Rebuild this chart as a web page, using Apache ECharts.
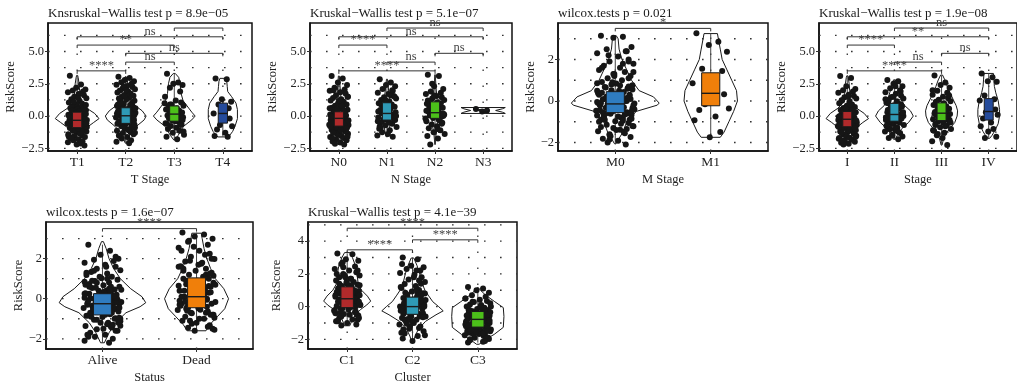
<!DOCTYPE html>
<html>
<head>
<meta charset="utf-8">
<script src="https://cdn.jsdelivr.net/npm/echarts@6/dist/echarts.min.js"></script>
<style>
html,body{margin:0;padding:0;background:#fff;}
#chart{width:1017px;height:385px;}
</style>
</head>
<body>
<div id="chart"></div>
<script>
// horizontal jitter offsets (category units), shared by every group
var jitter = [-0.15,0.08,-0.02,0.17,-0.09,0.12,-0.19,0.03,0.14,-0.06,0.19,-0.12,0.05,-0.17,0.10,-0.01,0.16,-0.08,0.07,-0.14,
  0.01,0.18,-0.11,0.13,-0.04,0.09,-0.18,0.15,-0.07,0.04,-0.13,0.11,-0.03,0.20,-0.16,0.06,-0.10,0.02,-0.20,0.12,
  -0.05,0.17,-0.12,0.08,-0.15,0.00,0.14,-0.09,0.19,-0.02,0.05,-0.18,0.10,-0.06,0.16,-0.13,0.03,-0.08,0.11,-0.19,
  0.07,-0.01,0.15,-0.11,0.13,-0.04,0.18,-0.14,0.02,-0.17,0.09,-0.07,0.20,-0.10,0.06,-0.16,0.12,-0.03,0.04,-0.12,
  0.13,-0.18,0.06,-0.09,0.18,-0.03,0.10,-0.14,0.01,0.16,-0.07,0.19,-0.11,0.04,-0.16,0.08,-0.05,0.14,-0.19,0.11,
  -0.08,0.15,-0.13,0.02,0.17,-0.04,0.09,-0.17,0.12,-0.10,0.05,0.19,-0.15,0.07,-0.01,0.14,-0.19,0.10,-0.06,0.18];

// ---- T Stage ----
var tCats = ['T1','T2','T3','T4'];
var tScores = [
  [3.12,2.45,2.2,2.05,1.98,1.9,1.85,1.7,1.62,1.5,1.38,1.3,1.18,1.05,0.98,0.9,0.82,0.74,0.66,0.6,0.52,0.44,0.38,0.3,0.24,0.17,0.1,0.04,-0.02,-0.08,-0.13,-0.19,-0.25,-0.3,-0.36,-0.41,-0.47,-0.52,-0.58,-0.63,-0.7,-0.76,-0.82,-0.88,-0.93,-1.0,-1.06,-1.12,-1.19,-1.26,-1.33,-1.41,-1.48,-1.56,-1.63,-1.72,-1.8,-1.88,-1.95,-2.03,-2.12,-2.2,-2.28,0.7,-0.4,-1.1,0.15,-0.7,1.4,-1.6,
   -0.2,-0.5,-0.85,0.4,-1.3,0.0,-0.65,0.25,-1.0,-0.35,0.55,-1.5,-0.1,-0.75,0.85,-0.45,-1.2,0.05,-0.95,-0.25,1.1,-0.55,-1.7,0.35,-0.05],
  [3.05,2.95,2.8,2.7,2.62,2.5,2.42,2.33,2.25,2.15,2.08,1.98,1.9,1.82,1.74,1.65,1.57,1.5,1.42,1.35,1.26,1.18,1.1,1.02,0.94,0.86,0.78,0.7,0.62,0.55,0.47,0.4,0.32,0.25,0.18,0.1,0.03,-0.04,-0.11,-0.18,-0.25,-0.33,-0.4,-0.48,-0.56,-0.64,-0.72,-0.8,-0.88,-0.97,-1.05,-1.14,-1.23,-1.32,-1.42,-1.52,-1.63,-1.75,-1.88,-2.0,-2.1,0.5,-0.3,1.2,-0.9,2.3,0.1,-1.5,1.7,-0.6,
   0.3,-0.2,0.6,-0.5,0.0,0.9,-0.8,0.45,-0.1,1.3,-0.35,0.2,-1.1,0.75,-0.65,1.6,0.15,-0.45,2.0,-0.15,0.55,-1.3,1.0,-0.05,0.35],
  [3.28,2.6,2.5,2.4,2.2,1.9,1.5,1.2,1.05,0.9,0.8,0.7,0.6,0.5,0.42,0.35,0.28,0.2,0.12,0.05,-0.02,-0.1,-0.18,-0.25,-0.35,-0.45,-0.55,-0.65,-0.78,-0.9,-1.0,-1.15,-1.3,-1.45,-1.6,-1.8,0.3,-0.4,1.0,-0.7,
   0.2,-0.3,0.6,0.0,-0.6,0.45,-0.15,0.9,-1.2,0.1],
  [2.9,2.85,1.3,1.1,0.9,0.6,0.2,0.1,-0.2,-0.7,-0.8,-1.05,-1.3,-1.55,-1.6]
];
var tBoxes = [[-2.3,-0.9,-0.33,0.3,3.12],[-2.1,-0.57,0.02,0.64,3.05],[-1.86,-0.4,0.15,0.78,3.3],[-1.6,-0.55,0.2,1.0,1.3]];
var tViolins = [
  [[-2.3,0.02],[-2.0,0.04],[-1.5,0.08],[-1.0,0.16],[-0.5,0.34],[-0.2,0.45],[0.2,0.36],[0.6,0.2],[1.0,0.1],[1.5,0.06],[2.0,0.05],[2.5,0.04],[3.0,0.02],[3.15,0.01]],
  [[-2.1,0.01],[-1.8,0.04],[-1.3,0.1],[-0.8,0.22],[-0.3,0.38],[0,0.42],[0.4,0.34],[0.8,0.2],[1.2,0.12],[1.8,0.07],[2.4,0.05],[2.8,0.03],[3.05,0.01]],
  [[-1.86,0.01],[-1.5,0.08],[-0.8,0.19],[-0.3,0.36],[0,0.43],[0.3,0.36],[0.7,0.28],[1.2,0.18],[1.75,0.14],[2.5,0.12],[3.0,0.09],[3.3,0.02]],
  [[-1.62,0.1],[-1.5,0.14],[-1.2,0.2],[-0.8,0.25],[-0.2,0.3],[0.5,0.3],[1.0,0.27],[1.5,0.18],[1.9,0.1],[2.3,0.09],[2.7,0.08],[2.92,0.06]]
];
var tBrackets = [[1,2,3.5,'****'],[2,3,4.18,'ns'],[2,4,4.86,'ns'],[1,3,5.5,'**'],[1,4,6.14,'ns'],[3,4,6.82,'']];

// ---- N Stage ----
var nCats = ['N0','N1','N2','N3'];
var nScores = [
  [3.1,2.9,2.6,2.4,2.2,2.05,1.95,1.85,1.75,1.62,1.5,1.4,1.3,1.2,1.1,1.0,0.9,0.8,0.72,0.64,0.56,0.48,0.4,0.32,0.25,0.18,0.11,0.04,-0.03,-0.1,-0.16,-0.22,-0.29,-0.35,-0.42,-0.48,-0.55,-0.61,-0.68,-0.74,-0.8,-0.87,-0.94,-1.0,-1.07,-1.14,-1.21,-1.29,-1.37,-1.45,-1.53,-1.62,-1.7,-1.79,-1.88,-1.97,-2.06,-2.15,-2.2,0.6,-0.5,1.0,-1.2,0.2,-0.2,-0.9,1.5,-1.7,0.0,-0.3,
   -0.4,-0.1,-0.7,0.3,-1.0,0.0,-0.55,0.5,-0.25,-1.3,0.15,-0.8,0.8,-0.45,-1.6,-0.15,0.4,-0.6,1.2,-0.95,0.05,-0.35,2.0,-1.1,-0.05],
  [2.85,2.6,2.4,2.3,2.1,1.95,1.8,1.7,1.55,1.45,1.35,1.25,1.12,1.0,0.9,0.82,0.72,0.63,0.55,0.46,0.38,0.3,0.22,0.14,0.05,-0.04,-0.12,-0.2,-0.3,-0.4,-0.5,-0.6,-0.72,-0.85,-0.98,-1.1,-1.25,-1.4,-1.5,-1.6,0.4,-0.3,0.9,1.6,-0.8,
   0.2,-0.1,0.6,0.0,1.2,-0.5,0.35,0.8,-0.2,1.5,-0.9,0.1,0.5,2.0,-0.4],
  [3.2,3.1,2.3,2.1,1.9,1.8,1.7,1.55,1.45,1.35,1.25,1.15,1.05,0.95,0.85,0.75,0.65,0.55,0.45,0.35,0.25,0.15,0.05,-0.05,-0.15,-0.28,-0.4,-0.52,-0.65,-0.8,-0.95,-1.1,-1.25,-1.4,-1.55,-1.75,-2.2,0.6,-0.2,1.0,
   0.3,0.0,0.7,-0.3,1.2,0.5,-0.6,0.9,0.1,1.6,-1.0,0.4,-0.1,2.5,0.2],
  [0.55,0.42,0.35]
];
var nBoxes = [[-2.2,-0.78,-0.18,0.33,3.1],[-1.6,-0.31,0.2,1.03,2.85],[-2.2,-0.18,0.26,1.1,3.2],[0.35,0.4,0.45,0.5,0.55]];
var nViolins = [
  [[-2.2,0.01],[-1.5,0.04],[-0.8,0.08],[-0.2,0.1],[0.5,0.08],[1.2,0.05],[2.0,0.03],[3.1,0.01]],
  [[-1.6,0.02],[-1.0,0.05],[-0.3,0.08],[0.3,0.09],[1.0,0.07],[1.8,0.04],[2.85,0.01]],
  [[-2.2,0.005],[-1.5,0.02],[-0.8,0.05],[0,0.07],[0.6,0.06],[1.4,0.04],[2.2,0.02],[3.2,0.005]],
  [[0.2,0.46],[0.3,0.4],[0.43,0.26],[0.56,0.4],[0.66,0.46]]
];
var nBrackets = [[1,3,3.5,'****'],[2,3,4.18,'ns'],[3,4,4.86,'ns'],[1,2,5.5,'****'],[1,4,6.14,'ns'],[2,4,6.82,'ns']];

// ---- M Stage ----
var mCats = ['M0','M1'];
var mScores = [
  [3.15,3.1,3.05,2.6,2.5,2.4,2.3,2.15,2.0,1.9,1.8,1.7,1.6,1.5,1.4,1.3,1.2,1.1,1.0,0.92,0.84,0.76,0.68,0.6,0.52,0.44,0.37,0.3,0.23,0.16,0.09,0.02,-0.05,-0.12,-0.19,-0.26,-0.33,-0.4,-0.47,-0.54,-0.61,-0.68,-0.75,-0.82,-0.9,-0.98,-1.06,-1.14,-1.22,-1.3,-1.38,-1.46,-1.55,-1.64,-1.73,-1.82,-1.92,-2.0,-2.1,0.5,-0.3,1.2,-0.9,0.1,-0.6,0.8,-1.2,1.6,-0.1,0.3,-1.5,2.2,-0.4,0.65,-0.8,
   -0.2,0.0,-0.5,0.3,-0.8,0.6,-0.1,-1.1,0.2,-0.35,0.9,-0.65,0.4,-1.4,0.1,-0.25,1.4,-0.9,0.5,-0.45,1.8,-1.7,0.7,-0.05,2.4,
   -0.15,0.25,-0.55,0.05,-0.85,0.45,-0.3,-1.0,0.15,-0.6,0.75,-0.2,-1.25,0.35,-0.4,1.1,-0.7,0.0,-1.6,0.55,-0.1,-0.95,1.3,-0.5,0.2,-1.35,0.85,-0.75,1.9,-1.85],
  [3.26,2.86,2.7,2.37,1.55,1.45,0.85,0.45,0.33,-0.16,-0.36,-0.43,-0.75,-0.93,-1.5,-1.75]
];
var mBoxes = [[-2.1,-0.56,-0.14,0.45,3.15],[-1.75,-0.23,0.37,1.36,3.26]];
var mViolins = [
  [[-2.05,0.01],[-1.8,0.04],[-1.5,0.08],[-1.0,0.12],[-0.5,0.22],[-0.2,0.44],[-0.1,0.46],[0.2,0.4],[0.5,0.25],[1.0,0.17],[1.5,0.12],[2.0,0.07],[2.5,0.04],[3.0,0.03],[3.15,0.01]],
  [[-1.75,0.1],[-1.5,0.14],[-1.0,0.19],[-0.5,0.24],[0,0.28],[0.5,0.27],[1.0,0.22],[1.5,0.17],[2.0,0.12],[2.5,0.1],[3.0,0.08],[3.25,0.07]]
];
var mBrackets = [[1,2,3.5,'*']];

// ---- Stage ----
var sCats = ['I','II','III','IV'];
var sScores = [
  [3.1,2.95,2.3,2.1,2.0,1.9,1.8,1.65,1.55,1.45,1.35,1.22,1.1,1.0,0.9,0.8,0.7,0.62,0.54,0.46,0.38,0.3,0.22,0.15,0.08,0.01,-0.06,-0.12,-0.18,-0.24,-0.3,-0.36,-0.42,-0.48,-0.54,-0.6,-0.66,-0.72,-0.78,-0.85,-0.92,-0.99,-1.06,-1.13,-1.2,-1.28,-1.36,-1.44,-1.52,-1.6,-1.68,-1.76,-1.84,-1.92,-2.0,-2.08,-2.15,-2.2,0.5,-0.3,-0.9,0.0,-1.4,1.2,-0.6,0.25,-1.1,-0.15,0.75,-1.7,
   -0.4,-0.1,-0.7,0.3,-1.0,0.0,-0.55,0.6,-0.25,-1.3,0.15,-0.85,0.9,-0.45,-1.6,-0.2,0.45,-0.65,1.5,-0.95,0.05,-0.35,-1.9,-1.15,-0.05],
  [2.8,2.7,2.5,2.3,2.15,2.0,1.85,1.72,1.6,1.48,1.36,1.25,1.14,1.03,0.93,0.83,0.73,0.64,0.55,0.46,0.37,0.28,0.2,0.12,0.04,-0.04,-0.12,-0.2,-0.28,-0.36,-0.44,-0.52,-0.6,-0.7,-0.8,-0.9,-1.0,-1.1,-1.2,-1.32,-1.45,-1.58,-1.7,-1.8,0.3,-0.5,0.9,-1.0,0.0,1.5,
   0.2,-0.3,0.6,-0.6,0.0,1.0,-0.9,0.4,-0.15,1.3,-1.2,0.1,0.8,-0.45,1.9,-1.5,0.3,-0.05,2.3,-0.75],
  [3.15,2.6,2.4,2.2,1.95,1.8,1.65,1.5,1.38,1.26,1.15,1.05,0.95,0.85,0.75,0.66,0.57,0.48,0.4,0.32,0.24,0.16,0.08,0.0,-0.08,-0.16,-0.24,-0.33,-0.42,-0.52,-0.62,-0.74,-0.86,-1.0,-1.15,-1.3,-1.48,-1.7,-1.95,-2.25,0.5,-0.3,1.1,-0.8,0.2,
   0.3,-0.2,0.7,-0.5,0.1,1.0,-1.1,0.45,-0.1,1.6,-0.7,0.6,-1.4,0.0,2.0],
  [3.3,3.0,2.7,2.65,1.6,1.3,1.2,0.9,0.5,0.3,0.1,-0.2,-0.5,-0.8,-1.0,-1.2,-1.6,-1.7]
];
var sBoxes = [[-2.2,-0.83,-0.25,0.35,3.1],[-1.8,-0.4,0.12,0.98,2.8],[-2.25,-0.35,0.22,1.02,3.15],[-1.7,-0.31,0.35,1.35,3.3]];
var sViolins = [
  [[-2.2,0.01],[-1.9,0.04],[-1.5,0.08],[-1.0,0.16],[-0.5,0.33],[-0.2,0.45],[0.2,0.36],[0.6,0.2],[1.0,0.1],[1.5,0.06],[2.0,0.05],[2.5,0.04],[3.0,0.02],[3.12,0.01]],
  [[-1.8,0.02],[-1.5,0.06],[-1.0,0.15],[-0.5,0.3],[0,0.4],[0.4,0.34],[0.8,0.22],[1.2,0.15],[1.8,0.1],[2.3,0.06],[2.8,0.02]],
  [[-2.25,0.01],[-1.8,0.04],[-1.3,0.1],[-1.0,0.17],[-0.5,0.28],[0,0.33],[0.4,0.34],[0.8,0.31],[1.25,0.25],[1.8,0.18],[2.3,0.12],[2.8,0.07],[3.18,0.02]],
  [[-1.73,0.02],[-1.5,0.07],[-1.2,0.12],[-0.6,0.2],[0,0.23],[0.5,0.23],[1.2,0.2],[1.8,0.15],[2.3,0.12],[2.8,0.11],[3.3,0.1]]
];
var sBrackets = [[1,3,3.5,'****'],[2,3,4.18,'ns'],[3,4,4.86,'ns'],[1,2,5.5,'****'],[1,4,6.14,'**'],[2,4,6.82,'ns']];

// ---- Status ----
var stCats = ['Alive','Dead'];
var stScores = [
  [2.7,2.4,2.2,2.0,1.95,1.88,1.8,1.7,1.6,1.5,1.42,1.34,1.26,1.18,1.1,1.02,0.95,0.88,0.81,0.74,0.67,0.6,0.53,0.46,0.4,0.33,0.27,0.2,0.14,0.08,0.02,-0.04,-0.1,-0.16,-0.22,-0.28,-0.34,-0.4,-0.46,-0.52,-0.58,-0.64,-0.7,-0.77,-0.84,-0.91,-0.98,-1.05,-1.12,-1.2,-1.28,-1.36,-1.44,-1.52,-1.6,-1.7,-1.8,-1.9,-2.0,-2.1,-2.2,0.3,-0.5,0.9,-1.0,0.0,-0.25,0.6,-0.75,1.3,-1.4,-0.1,0.45,-0.6,0.15,
   -0.3,0.1,-0.6,0.4,-0.9,-0.15,0.7,-1.2,0.0,-0.45,1.1,-0.7,0.25,-1.5,-0.05,0.55,-1.0,-0.35,1.6,-1.8,0.2,-0.55,-0.2,0.85,-1.3,
   -0.4,0.05,-0.7,0.35,-1.1,-0.2,0.6,-0.85,0.15,-0.5,1.0,-1.35,-0.1,0.5,-0.65,-1.6,0.25,-0.3,0.8,-0.95,-1.9,0.4,-0.15,-1.2,1.4,-0.45,0.05,-0.8,2.1,-1.05],
  [3.3,3.2,3.1,3.0,2.85,2.7,2.55,2.4,2.25,2.1,1.98,1.86,1.74,1.62,1.5,1.4,1.3,1.2,1.1,1.0,0.9,0.8,0.72,0.64,0.56,0.48,0.4,0.32,0.24,0.16,0.08,0.0,-0.08,-0.16,-0.24,-0.32,-0.4,-0.48,-0.56,-0.64,-0.72,-0.8,-0.9,-1.0,-1.1,-1.2,-1.32,-1.45,-1.55,-1.6,0.5,-0.3,1.2,-0.7,2.0,0.1,-1.0,0.8,-0.4,1.6,
   0.2,-0.2,0.6,-0.5,1.0,0.0,-0.8,1.4,0.35,-0.35,2.2,-1.1,0.7,-0.6,1.8,0.1,-1.4,2.6,0.45,-0.15,
   0.3,-0.1,0.75,-0.45,1.15,0.05,-0.7,1.5,0.55,-0.25,1.9,-0.95,0.9,-0.55,2.4,0.2,-1.25,1.25,0.65,-0.05,2.9,-0.8,0.4,1.7,-1.5]
];
var stBoxes = [[-2.2,-0.81,-0.25,0.25,2.7],[-1.6,-0.45,0.1,1.04,3.3]];
var stViolins = [
  [[-2.2,0.02],[-1.7,0.07],[-1.2,0.14],[-0.7,0.25],[-0.4,0.4],[-0.2,0.46],[0.1,0.42],[0.5,0.3],[1.0,0.19],[1.5,0.12],[2.0,0.07],[2.5,0.04],[2.85,0.01]],
  [[-1.6,0.1],[-1.3,0.14],[-0.9,0.22],[-0.5,0.3],[0,0.34],[0.5,0.29],[1.0,0.2],[1.5,0.15],[2.0,0.11],[2.5,0.08],[3.0,0.06],[3.27,0.05]]
];
var stBrackets = [[1,2,3.5,'****']];

// ---- Cluster ----
var cCats = ['C1','C2','C3'];
var cScores = [
  [3.25,3.2,2.9,2.8,2.6,2.45,2.3,2.2,2.1,2.0,1.9,1.8,1.7,1.6,1.5,1.42,1.34,1.26,1.18,1.1,1.02,0.95,0.88,0.81,0.74,0.67,0.6,0.53,0.46,0.39,0.32,0.25,0.18,0.11,0.04,-0.03,-0.1,-0.18,-0.26,-0.35,-0.45,-0.55,-0.66,-0.78,-0.9,-1.0,-1.1,-1.15,0.7,0.2,1.3,-0.4,0.5,2.4,-0.8,1.0,
   0.6,0.2,1.0,-0.2,0.4,1.5,-0.5,0.8,0.0,1.9,-0.7,0.3,1.2,-0.9,0.55,2.7,0.1,-0.35,1.7,0.9,
   0.5,0.9,0.1,1.4,-0.3,0.7,1.1,-0.6,0.3,1.8,0.0,-0.85,0.6,2.2,-0.1,1.3,0.45,-0.5,2.0,0.85],
  [3.0,2.9,2.5,2.4,2.3,2.2,2.05,1.95,1.8,1.65,1.5,1.38,1.26,1.14,1.02,0.92,0.82,0.72,0.62,0.53,0.44,0.35,0.27,0.19,0.11,0.03,-0.05,-0.13,-0.21,-0.29,-0.37,-0.45,-0.53,-0.61,-0.7,-0.8,-0.9,-1.0,-1.1,-1.22,-1.35,-1.5,-1.65,-1.8,-1.95,-2.1,0.4,-0.2,0.8,-0.6,0.0,1.2,-1.3,0.2,-0.4,
   0.2,-0.3,0.5,-0.6,0.0,0.9,-0.9,0.3,-0.15,1.4,-1.2,0.1,-0.45,1.8,-1.6,0.7,-0.75,0.4,-0.05,2.2,
   -0.1,0.35,-0.5,0.1,-0.8,0.65,-0.25,1.1,-1.05,0.0,-0.4,1.6,-1.4,0.25,-0.65,0.5,-1.75,0.85,-0.3,2.6],
  [1.2,1.1,1.0,0.85,0.7,0.6,0.5,0.42,0.35,0.28,0.2,0.13,0.06,0.0,-0.07,-0.14,-0.21,-0.28,-0.35,-0.42,-0.49,-0.56,-0.63,-0.7,-0.77,-0.84,-0.91,-0.98,-1.05,-1.12,-1.19,-1.26,-1.33,-1.4,-1.47,-1.54,-1.61,-1.68,-1.75,-1.82,-1.9,-1.98,-2.06,-2.15,-2.2,-0.5,-1.0,-0.3,-1.5,-0.8,0.1,-1.2,-0.6,-1.7,-0.9,-0.2,-1.35,0.3,-0.75,-1.1,
   -0.6,-0.9,-1.2,-0.4,-1.5,-0.75,-1.0,-0.2,-1.35,-0.55,-1.8,-0.85,0.0,-1.1,-0.65,-1.6,-0.3,-1.25,-0.95,-2.0,
   -0.7,-1.0,-0.45,-1.3,-0.85,-1.55,-0.25,-1.15,-0.6,-1.9,-0.95,-0.35,-1.45,-0.05,-0.8,-1.65,-1.05,-0.5,0.5,-2.1]
];
var cBoxes = [[-1.15,-0.06,0.48,1.21,3.25],[-2.1,-0.47,0.0,0.58,3.0],[-2.2,-1.25,-0.78,-0.3,1.2]];
var cViolins = [
  [[-1.17,0.04],[-0.77,0.08],[-0.4,0.15],[-0.16,0.21],[0.1,0.3],[0.34,0.36],[0.64,0.31],[1.0,0.22],[1.35,0.17],[2.0,0.15],[2.46,0.13],[3.0,0.08],[3.3,0.04]],
  [[-2.18,0.01],[-1.8,0.04],[-1.38,0.09],[-0.9,0.2],[-0.5,0.36],[-0.26,0.47],[0.0,0.4],[0.3,0.31],[0.7,0.24],[1.0,0.19],[1.5,0.14],[2.0,0.11],[2.5,0.07],[2.97,0.02]],
  [[-2.3,0.02],[-2.0,0.12],[-1.7,0.25],[-1.27,0.39],[-0.6,0.4],[-0.06,0.39],[0.3,0.26],[0.7,0.12],[1.0,0.04],[1.15,0.01]]
];
var cBrackets = [[1,2,3.47,'****'],[2,3,4.08,'****'],[1,3,4.79,'****']];

var FONT = '"Liberation Serif", "Times New Roman", serif';
var MINUS = '\u2212';

var panels = [
  {title:'Knsruskal' + MINUS + 'Wallis test p = 8.9e' + MINUS + '05', xName:'T Stage', cats:tCats, scores:tScores, boxes:tBoxes, violins:tViolins, brackets:tBrackets,
   colors:['#b02a2b','#2f9ab6','#4cbf1a','#254b9b'], yMin:-2.71, yMax:7.21, yTicks:[-2.5,0,2.5,5], dec:1,
   yGrid:[-2.5,-1.25,0,1.25,2.5,3.75,5,6.25], box:{left:48, top:23, width:204, height:128}, yGap:23},
  {title:'Kruskal' + MINUS + 'Wallis test p = 5.1e' + MINUS + '07', xName:'N Stage', cats:nCats, scores:nScores, boxes:nBoxes, violins:nViolins, brackets:nBrackets,
   colors:['#b02a2b','#2f9ab6','#4cbf1a','#254b9b'], yMin:-2.71, yMax:7.21, yTicks:[-2.5,0,2.5,5], dec:1,
   yGrid:[-2.5,-1.25,0,1.25,2.5,3.75,5,6.25], box:{left:310, top:23, width:202, height:128}, yGap:26},
  {title:'wilcox.tests p = 0.021', xName:'M Stage', cats:mCats, scores:mScores, boxes:mBoxes, violins:mViolins, brackets:mBrackets,
   colors:['#2f7cc0','#f07f0a'], yMin:-2.41, yMax:3.76, yTicks:[-2,0,2], dec:0,
   yGrid:[-2,-1,0,1,2,3], box:{left:558, top:23, width:210, height:128}, yGap:16},
  {title:'Kruskal' + MINUS + 'Wallis test p = 1.9e' + MINUS + '08', xName:'Stage', cats:sCats, scores:sScores, boxes:sBoxes, violins:sViolins, brackets:sBrackets,
   colors:['#b02a2b','#2f9ab6','#4cbf1a','#254b9b'], yMin:-2.71, yMax:7.21, yTicks:[-2.5,0,2.5,5], dec:1,
   yGrid:[-2.5,-1.25,0,1.25,2.5,3.75,5,6.25], box:{left:819, top:23, width:204, height:128}, yGap:31},
  {title:'wilcox.tests p = 1.6e' + MINUS + '07', xName:'Status', cats:stCats, scores:stScores, boxes:stBoxes, violins:stViolins, brackets:stBrackets,
   colors:['#2f7cc0','#f07f0a'], yMin:-2.51, yMax:3.83, yTicks:[-2,0,2], dec:0,
   yGrid:[-2,-1,0,1,2,3], box:{left:46, top:222, width:207, height:128}, yGap:17},
  {title:'Kruskal' + MINUS + 'Wallis test p = 4.1e' + MINUS + '39', xName:'Cluster', cats:cCats, scores:cScores, boxes:cBoxes, violins:cViolins, brackets:cBrackets,
   colors:['#b02a2b','#2f9ab6','#4cbf1a'], yMin:-2.59, yMax:5.17, yTicks:[-2,0,2,4], dec:0,
   yGrid:[-2,-1,0,1,2,3,4,5], box:{left:308, top:222, width:209, height:128}, yGap:25}
];

function fmtY(v, dec) {
  var s = Math.abs(v).toFixed(dec);
  return v < 0 ? MINUS + s : s;
}

var option = {
  backgroundColor: '#ffffff',
  animation: false,
  title: [], grid: [], xAxis: [], yAxis: [], series: []
};

panels.forEach(function (p, k) {
  var n = p.cats.length;
  var ticks = p.cats.map(function (c, i) { return i + 1; });
  var xMin = 0.4, xMax = n + 0.6;

  option.title.push({
    text: p.title, left: p.box.left, top: p.box.top - 16, padding: 0,
    textStyle: {fontFamily: FONT, fontSize: 13, fontWeight: 'normal', color: '#1a1a1a'}
  });
  option.grid.push({
    left: p.box.left, top: p.box.top, width: p.box.width, height: p.box.height,
    show: true, borderColor: '#111', borderWidth: 1.5, backgroundColor: 'transparent'
  });
  option.xAxis.push({
    gridIndex: k, type: 'value', min: xMin, max: xMax,
    name: p.xName, nameLocation: 'middle', nameGap: 22,
    nameTextStyle: {fontFamily: FONT, fontSize: 12.5, color: '#222'},
    axisLine: {show: true, onZero: false, lineStyle: {color: '#111', width: 1.5}},
    axisTick: {show: true, length: 3, customValues: ticks, lineStyle: {color: '#333'}},
    axisLabel: {customValues: ticks, margin: 4, fontFamily: FONT, fontSize: 13.5, color: '#222',
      formatter: function (v) { return p.cats[Math.round(v) - 1] || ''; }},
    splitLine: {show: false}
  });
  option.yAxis.push({
    gridIndex: k, type: 'value', min: p.yMin, max: p.yMax,
    name: 'RiskScore', nameLocation: 'middle', nameGap: p.yGap, nameRotate: 90,
    nameTextStyle: {fontFamily: FONT, fontSize: 12.5, color: '#222'},
    axisLine: {show: true, onZero: false, lineStyle: {color: '#111', width: 1.5}},
    axisTick: {show: true, length: 3, customValues: p.yTicks, lineStyle: {color: '#333'}},
    axisLabel: {customValues: p.yTicks, margin: 4, fontFamily: FONT, fontSize: 12.5, color: '#222',
      formatter: function (v) { return fmtY(v, p.dec); }},
    splitLine: {show: false}
  });

  // dotted grid lines: horizontal at yGrid values, vertical at each category
  var gridData = p.yGrid.map(function (v) { return [0, v]; }).concat(ticks.map(function (t) { return [1, t]; }));
  option.series.push({
    type: 'custom', xAxisIndex: k, yAxisIndex: k, z: 1, silent: true,
    data: gridData,
    renderItem: function (params, api) {
      var d = gridData[params.dataIndex];
      var a, b;
      if (d[0] === 0) { a = api.coord([xMin, d[1]]); b = api.coord([xMax, d[1]]); }
      else { a = api.coord([d[1], p.yMin]); b = api.coord([d[1], p.yMax]); }
      return {type: 'line', shape: {x1: a[0], y1: a[1], x2: b[0], y2: b[1]},
        style: {stroke: '#333', lineWidth: 1.3, lineDash: [1.6, 14.4]}};
    }
  });

  // violins + whiskers
  option.series.push({
    type: 'custom', xAxisIndex: k, yAxisIndex: k, z: 2, silent: true,
    data: ticks.map(function (t) { return [t, 0]; }),
    renderItem: function (params, api) {
      var i = params.dataIndex, cx = i + 1, prof = p.violins[i], b = p.boxes[i];
      var pts = [];
      for (var j = 0; j < prof.length; j++) pts.push(api.coord([cx - prof[j][1], prof[j][0]]));
      for (var j2 = prof.length - 1; j2 >= 0; j2--) pts.push(api.coord([cx + prof[j2][1], prof[j2][0]]));
      var w1 = api.coord([cx, b[0]]), w2 = api.coord([cx, b[4]]);
      return {type: 'group', children: [
        {type: 'polygon', shape: {points: pts}, style: {fill: 'none', stroke: '#1a1a1a', lineWidth: 1}},
        {type: 'line', shape: {x1: w1[0], y1: w1[1], x2: w2[0], y2: w2[1]}, style: {stroke: '#444', lineWidth: 1}}
      ]};
    }
  });

  // jittered points
  var pts = [];
  p.scores.forEach(function (arr, i) {
    arr.forEach(function (y, j) { pts.push([i + 1 + jitter[j % jitter.length], y]); });
  });
  option.series.push({
    type: 'scatter', xAxisIndex: k, yAxisIndex: k, z: 3, silent: true,
    symbolSize: 6, itemStyle: {color: '#161616', opacity: 1},
    data: pts
  });

  // boxes
  option.series.push({
    type: 'custom', xAxisIndex: k, yAxisIndex: k, z: 4, silent: true,
    data: ticks.map(function (t) { return [t, 0]; }),
    renderItem: function (params, api) {
      var i = params.dataIndex, cx = i + 1, b = p.boxes[i], hw = 0.095;
      var tl = api.coord([cx - hw, b[3]]), br = api.coord([cx + hw, b[1]]);
      var ml = api.coord([cx - hw, b[2]]), mr = api.coord([cx + hw, b[2]]);
      return {type: 'group', children: [
        {type: 'rect', shape: {x: tl[0], y: tl[1], width: br[0] - tl[0], height: br[1] - tl[1]},
          style: {fill: p.colors[i], stroke: '#1a1a1a', lineWidth: 1}},
        {type: 'line', shape: {x1: ml[0], y1: ml[1], x2: mr[0], y2: mr[1]}, style: {stroke: '#1a1a1a', lineWidth: 1.4}}
      ]};
    }
  });

  // significance brackets
  option.series.push({
    type: 'custom', xAxisIndex: k, yAxisIndex: k, z: 5, silent: true,
    data: p.brackets.map(function (b) { return [b[0], b[2]]; }),
    renderItem: function (params, api) {
      var b = p.brackets[params.dataIndex];
      var a = api.coord([b[0], b[2]]), c = api.coord([b[1], b[2]]);
      return {type: 'group', children: [
        {type: 'polyline', shape: {points: [[a[0], a[1] + 3], [a[0], a[1]], [c[0], c[1]], [c[0], c[1] + 3]]},
          style: {stroke: '#333', lineWidth: 1, fill: null}},
        {type: 'text', x: (a[0] + c[0]) / 2, y: a[1] + 1,
          style: {text: b[3], fill: '#444', font: '12.5px ' + FONT, align: 'center', verticalAlign: 'bottom'}}
      ]};
    }
  });
});

var chart = echarts.init(document.getElementById('chart'));
chart.setOption(option);
</script>
</body>
</html>
